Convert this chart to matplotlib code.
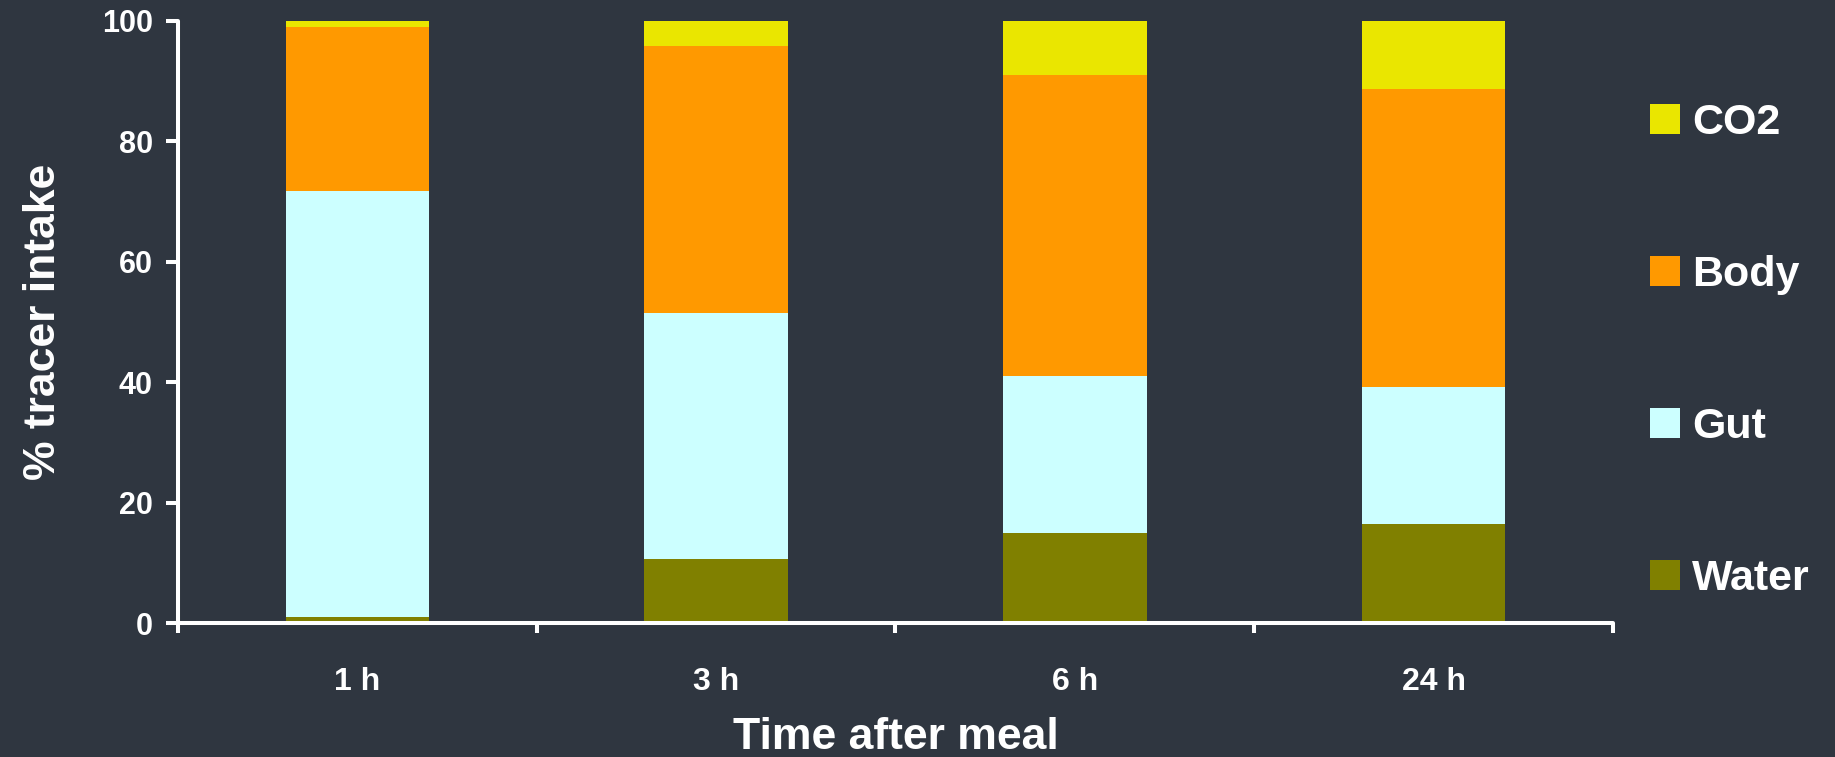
import matplotlib
matplotlib.use('Agg')
import matplotlib.pyplot as plt
import numpy as np

# Reparto del trazador (% de la ingesta) segun el tiempo tras la comida
tiempos = ['1 h', '3 h', '6 h', '24 h']
agua = [1.0, 10.7, 15.0, 16.5]
intestino = [70.7, 40.8, 26.1, 22.7]
cuerpo = [27.3, 44.3, 49.9, 49.5]
co2 = [1.0, 4.2, 9.0, 11.3]

fondo = '#2F3640'
colores = {'Water': '#808000', 'Gut': '#CCFFFF', 'Body': '#FF9900', 'CO2': '#EAE600'}

plt.rcParams['font.family'] = ['Liberation Sans', 'DejaVu Sans']
plt.rcParams['font.weight'] = 'bold'

fig = plt.figure(figsize=(18.35, 7.57), dpi=100, facecolor=fondo)
ax = fig.add_axes([0.097, 0.1764, 0.782, 0.7959])
ax.set_facecolor(fondo)

x = np.arange(len(tiempos))
ancho = 0.40
base = np.zeros(len(tiempos))
barras = {}
for nombre, valores in [('Water', agua), ('Gut', intestino), ('Body', cuerpo), ('CO2', co2)]:
    barras[nombre] = ax.bar(x, valores, ancho, bottom=base, color=colores[nombre],
                            linewidth=0, label=nombre)
    base = base + np.array(valores)

ax.set_xlim(-0.5, len(tiempos) - 0.5)
ax.set_ylim(0, 100)
ax.set_yticks([0, 20, 40, 60, 80, 100])

# ticks del eje x entre las barras, etiquetas centradas en cada barra
ax.set_xticks(np.arange(-0.5, len(tiempos), 1.0))
ax.set_xticklabels([])
ax.set_xticks(x, minor=True)
ax.set_xticklabels(tiempos, minor=True)
ax.tick_params(axis='x', which='minor', length=0, pad=31, labelsize=23, labelcolor='white')
ax.tick_params(axis='x', which='major', direction='out', length=7.5, width=2.9, color='white')
ax.tick_params(axis='y', direction='out', length=8.6, width=2.9, color='white',
               pad=9.5, labelsize=22, labelcolor='white')
for t in ax.xaxis.get_major_ticks() + ax.yaxis.get_major_ticks():
    t.tick1line.set_solid_capstyle('round')

for lado in ['top', 'right']:
    ax.spines[lado].set_visible(False)
for lado in ['left', 'bottom']:
    ax.spines[lado].set_color('white')
    ax.spines[lado].set_linewidth(2.9)
    ax.spines[lado].set_capstyle('round')

ax.set_ylabel('% tracer intake', fontsize=32, fontweight='bold', color='white')
ax.yaxis.label.set_va('center')
ax.yaxis.set_label_coords(-0.094, 0.5)
ax.set_xlabel('Time after meal', fontsize=32, fontweight='bold', color='white')
ax.xaxis.label.set_va('top')
ax.xaxis.set_label_coords(0.5, -0.155)

orden = ['CO2', 'Body', 'Gut', 'Water']
leg = fig.legend([barras[n] for n in orden], orden, loc='center left',
                 bbox_to_anchor=(0.899, 0.536), frameon=False, fontsize=31,
                 handlelength=0.7, handleheight=0.7, handletextpad=0.28,
                 labelspacing=2.6, borderpad=0, borderaxespad=0)
for texto in leg.get_texts():
    texto.set_color('white')

fig.savefig('out.png', dpi=100, facecolor=fondo)
